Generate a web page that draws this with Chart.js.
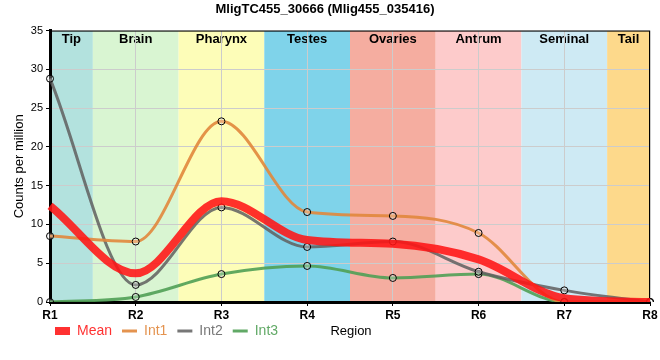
<!DOCTYPE html>
<html>
<head>
<meta charset="utf-8">
<script src="https://cdn.jsdelivr.net/npm/chart.js@4/dist/chart.umd.min.js"></script>
<style>
  html, body { margin: 0; padding: 0; background: #fff; }
  #wrap { width: 660px; height: 360px; }
</style>
</head>
<body>
<div id="wrap"><canvas id="chart" width="660" height="360"></canvas></div>
<script>
const labels = ['R1', 'R2', 'R3', 'R4', 'R5', 'R6', 'R7', 'R8'];
const regions = ['Tip', 'Brain', 'Pharynx', 'Testes', 'Ovaries', 'Antrum', 'Seminal', 'Tail'];
const regionColors = ['#b3e2de', '#d9f5d2', '#fdfdb8', '#7fd3ea', '#f5ada0', '#fdcbcb', '#ceeaf4', '#fdd98b'];

const mean = [12.4, 3.7, 13.0, 8.0, 7.5, 5.5, 0.5, 0];
const int1 = [8.5, 7.8, 23.3, 11.6, 11.1, 8.9, 0, 0];
const int2 = [28.8, 2.2, 12.2, 7.1, 7.8, 3.9, 1.5, 0];
const int3 = [0, 0.65, 3.6, 4.65, 3.1, 3.6, 0, 0];

Chart.defaults.font.family = '"Liberation Sans", Arial, sans-serif';
Chart.defaults.color = '#000';
Chart.defaults.animation = false;

// coloured region bands behind the grid, plot frame, "Region" label
const bands = {
    id: 'bands',
    afterLayout(chart) {
        // legend starts under the plot, on the same line as the axis title
        chart.legend.left += 45;
        chart.legend.top -= 8;
        chart.legend.bottom -= 8;
    },
    beforeDraw(chart) {
        const { ctx, chartArea: a, scales: { x } } = chart;
        ctx.save();
        regions.forEach((name, i) => {
            let x0 = Math.max(a.left, x.getPixelForValue(i - 0.5));
            let x1 = Math.min(a.right, x.getPixelForValue(i + 0.5));
            ctx.fillStyle = regionColors[i];
            ctx.fillRect(x0, a.top, x1 - x0, a.bottom - a.top);
            ctx.fillStyle = '#000';
            ctx.font = 'bold 13px "Liberation Sans", Arial, sans-serif';
            ctx.textAlign = 'center';
            ctx.textBaseline = 'middle';
            ctx.fillText(name, (x0 + x1) / 2, a.top + 9);
        });
        ctx.restore();
    },
    beforeDatasetsDraw(chart) {
        const { ctx, chartArea: a } = chart;
        ctx.save();
        ctx.strokeStyle = '#000';
        ctx.lineWidth = 1;
        ctx.strokeRect(a.left, a.top + 0.5, a.right - a.left - 0.5, a.bottom - a.top);
        ctx.restore();
    },
    afterDraw(chart) {
        const { ctx, chartArea: a } = chart;
        const hb = chart.legend.legendHitBoxes[0];
        ctx.save();
        ctx.fillStyle = '#000';
        ctx.font = '13px "Liberation Sans", Arial, sans-serif';
        ctx.textAlign = 'center';
        ctx.textBaseline = 'middle';
        ctx.fillText('Region', (a.left + a.right) / 2 + 1, hb.top + hb.height / 2);
        ctx.restore();
    }
};

function line(label, data, color, width) {
    return {
        label: label,
        data: data,
        borderColor: color,
        backgroundColor: color,
        borderWidth: width,
        cubicInterpolationMode: 'monotone',
        pointRadius: width > 4 ? 0 : 3.5,
        pointBorderColor: '#000',
        pointBorderWidth: 1,
        pointBackgroundColor: 'rgba(255,255,255,0.25)',
        fill: false,
    };
}

const ctx = document.getElementById('chart').getContext('2d');
window.chart = new Chart(ctx, {
    type: 'line',
    data: {
        labels: labels,
        datasets: [
            line('Mean', mean, 'rgba(255,20,20,0.88)', 8),
            line('Int1', int1, 'rgba(225,135,60,0.9)', 3),
            line('Int2', int2, 'rgba(95,95,95,0.85)', 3),
            line('Int3', int3, 'rgba(80,160,85,0.9)', 3),
        ]
    },
    options: {
        responsive: false,
        layout: { padding: { left: 0, right: 10, top: 0, bottom: 4 } },
        scales: {
            x: {
                offset: false,
                grid: { color: '#cccccc', tickColor: '#000', tickLength: 4, offset: false },
                border: { color: '#000', width: 3 },
                ticks: { font: { size: 12, weight: 'bold' }, padding: 2, maxRotation: 0 },
                afterFit: s => { s.height = 20; },
            },
            y: {
                min: 0,
                max: 35,
                ticks: { stepSize: 5, font: { size: 11 }, padding: 3 },
                grid: { color: '#cccccc', tickColor: '#000', tickLength: 4 },
                border: { color: '#000', width: 3 },
                title: { display: true, text: 'Counts per million', font: { size: 13 }, padding: { top: 12, bottom: 0 } },
                afterFit: s => { s.width = 50; },
            }
        },
        plugins: {
            title: {
                display: true,
                text: 'MligTC455_30666 (Mlig455_035416)',
                font: { size: 13, weight: 'bold' },
                padding: { top: 2, bottom: 13 },
            },
            legend: {
                position: 'bottom',
                align: 'start',
                labels: {
                    usePointStyle: true,
                    pointStyleWidth: 15,
                    boxHeight: 8,
                    padding: 10,
                    font: { size: 14 },
                    generateLabels: chart => chart.data.datasets.map((ds, i) => ({
                        text: ds.label,
                        fillStyle: ds.borderColor,
                        strokeStyle: ds.borderColor,
                        lineWidth: ds.borderWidth,
                        pointStyle: 'line',
                        fontColor: ds.borderColor,
                        hidden: false,
                        datasetIndex: i,
                    })),
                }
            },
            tooltip: { enabled: false },
        }
    },
    plugins: [bands]
});
</script>
</body>
</html>
